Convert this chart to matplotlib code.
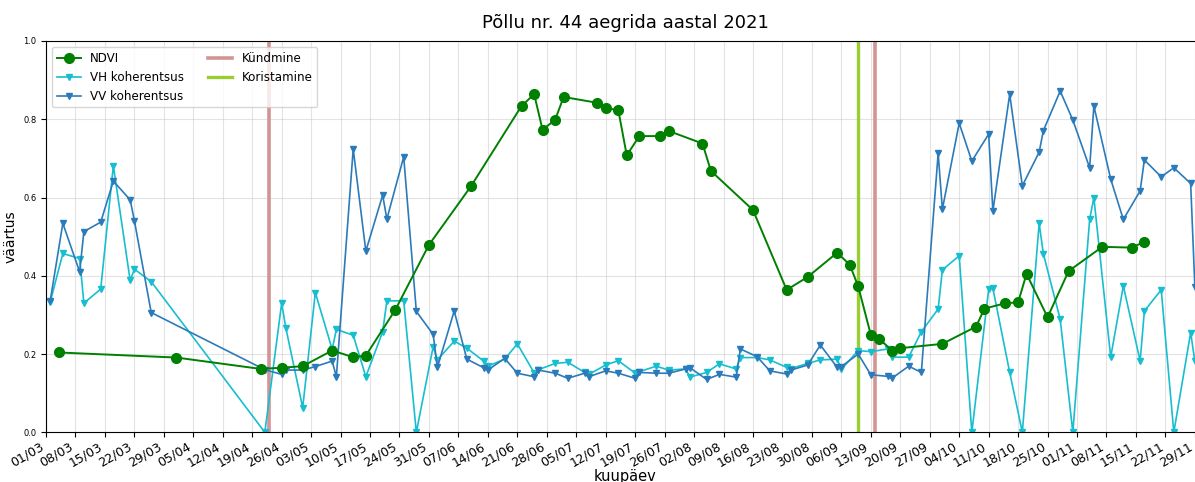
import matplotlib
matplotlib.use("Agg")
import matplotlib.pyplot as plt
import matplotlib.dates as mdates
import pandas as pd

# ---------------- data ----------------
ndvi_dates = ["2021-03-04", "2021-04-01", "2021-04-21", "2021-04-26", "2021-05-01", "2021-05-08",
              "2021-05-13", "2021-05-16", "2021-05-23", "2021-05-31", "2021-06-10", "2021-06-22",
              "2021-06-25", "2021-06-27", "2021-06-30", "2021-07-02", "2021-07-10", "2021-07-12",
              "2021-07-15", "2021-07-17", "2021-07-20", "2021-07-25", "2021-07-27", "2021-08-04",
              "2021-08-06", "2021-08-16", "2021-08-24", "2021-08-29", "2021-09-05", "2021-09-08",
              "2021-09-10", "2021-09-13", "2021-09-15", "2021-09-18", "2021-09-20", "2021-09-30",
              "2021-10-08", "2021-10-10", "2021-10-15", "2021-10-18", "2021-10-20", "2021-10-25",
              "2021-10-30", "2021-11-07", "2021-11-14", "2021-11-17"]
ndvi_values = [0.204, 0.191, 0.162, 0.165, 0.169, 0.209,
               0.192, 0.196, 0.313, 0.479, 0.629, 0.834,
               0.864, 0.773, 0.799, 0.857, 0.842, 0.829,
               0.823, 0.708, 0.757, 0.757, 0.770, 0.738,
               0.668, 0.568, 0.364, 0.397, 0.459, 0.428,
               0.373, 0.249, 0.239, 0.209, 0.215, 0.226,
               0.270, 0.316, 0.330, 0.332, 0.405, 0.294,
               0.412, 0.474, 0.472, 0.487]

coh_dates = ["2021-03-02", "2021-03-05", "2021-03-09", "2021-03-10", "2021-03-14", "2021-03-17",
             "2021-03-21", "2021-03-22", "2021-03-26", "2021-04-22", "2021-04-26", "2021-04-27",
             "2021-05-01", "2021-05-04", "2021-05-08", "2021-05-09", "2021-05-13", "2021-05-16",
             "2021-05-20", "2021-05-21", "2021-05-25", "2021-05-28", "2021-06-01", "2021-06-02",
             "2021-06-06", "2021-06-09", "2021-06-13", "2021-06-14", "2021-06-18", "2021-06-21",
             "2021-06-25", "2021-06-26", "2021-06-30", "2021-07-03", "2021-07-07", "2021-07-08",
             "2021-07-12", "2021-07-15", "2021-07-19", "2021-07-20", "2021-07-24", "2021-07-27",
             "2021-07-31", "2021-08-01", "2021-08-05", "2021-08-08", "2021-08-12", "2021-08-13",
             "2021-08-17", "2021-08-20", "2021-08-24", "2021-08-25", "2021-08-29", "2021-09-01",
             "2021-09-05", "2021-09-06", "2021-09-10", "2021-09-13", "2021-09-17", "2021-09-18",
             "2021-09-22", "2021-09-25", "2021-09-29", "2021-09-30", "2021-10-04", "2021-10-07",
             "2021-10-11", "2021-10-12", "2021-10-16", "2021-10-19", "2021-10-23", "2021-10-24",
             "2021-10-28", "2021-10-31", "2021-11-04", "2021-11-05", "2021-11-09", "2021-11-12",
             "2021-11-16", "2021-11-17", "2021-11-21", "2021-11-24", "2021-11-28", "2021-11-29"]
vh_values = [0.333, 0.457, 0.444, 0.330, 0.366, 0.681,
             0.388, 0.417, 0.385, 0.0, 0.330, 0.266,
             0.063, 0.357, 0.212, 0.263, 0.248, 0.142,
             0.257, 0.336, 0.336, 0.0, 0.219, 0.185,
             0.233, 0.215, 0.182, 0.169, 0.187, 0.226,
             0.152, 0.160, 0.176, 0.179, 0.153, 0.148,
             0.172, 0.183, 0.151, 0.155, 0.169, 0.159,
             0.162, 0.141, 0.153, 0.175, 0.162, 0.191,
             0.191, 0.185, 0.166, 0.163, 0.176, 0.185,
             0.187, 0.161, 0.209, 0.206, 0.213, 0.192,
             0.192, 0.257, 0.315, 0.415, 0.451, 0.0,
             0.365, 0.368, 0.153, 0.0, 0.534, 0.456,
             0.289, 0.0, 0.544, 0.600, 0.192, 0.374,
             0.182, 0.310, 0.364, 0.0, 0.255, 0.181]
vv_values = [0.336, 0.534, 0.410, 0.513, 0.537, 0.642,
             0.594, 0.541, 0.306, 0.160, 0.148, 0.159,
             0.159, 0.168, 0.182, 0.142, 0.724, 0.463,
             0.606, 0.545, 0.704, 0.309, 0.250, 0.166,
             0.310, 0.187, 0.165, 0.159, 0.189, 0.151,
             0.142, 0.159, 0.151, 0.138, 0.151, 0.142,
             0.157, 0.151, 0.138, 0.153, 0.151, 0.151,
             0.162, 0.165, 0.135, 0.148, 0.141, 0.213,
             0.193, 0.157, 0.149, 0.159, 0.172, 0.223,
             0.166, 0.168, 0.200, 0.147, 0.143, 0.138,
             0.169, 0.153, 0.713, 0.570, 0.790, 0.693,
             0.762, 0.565, 0.864, 0.630, 0.716, 0.771,
             0.872, 0.798, 0.676, 0.834, 0.647, 0.544,
             0.617, 0.696, 0.653, 0.676, 0.636, 0.372]

kyndmine_dates = ["2021-04-23", "2021-09-14"]
koristamine_dates = ["2021-09-10"]

title = "Põllu nr. 44 aegrida aastal 2021"
xlabel = "kuupäev"
ylabel = "väärtus"

# ---------------- plot ----------------
W, H = 1195, 482
fig = plt.figure(figsize=(W / 100, H / 100), dpi=100)
x0 = pd.Timestamp("2021-03-01")
x1 = x0 + pd.Timedelta(days=275.2)
px_per_day = 4.2083
ax_w = 275.2 * px_per_day
ax = fig.add_axes([46 / W, 49.7 / H, ax_w / W, 391.3 / H])

kund_handle = None
for i, d in enumerate(kyndmine_dates):
    h = ax.axvline(pd.Timestamp(d), color="#d29494", lw=2.6, zorder=1.5)
    if i == 0:
        kund_handle = h
kor_handle = None
for d in koristamine_dates:
    kor_handle = ax.axvline(pd.Timestamp(d), color="#9acd32", lw=2.4, zorder=1.5)

vh_line, = ax.plot(pd.to_datetime(coh_dates), vh_values, color="#17becf", marker="v",
                   markersize=4, lw=1.2, zorder=2)
vv_line, = ax.plot(pd.to_datetime(coh_dates), vv_values, color="#2b7bba", marker="v",
                   markersize=4, lw=1.2, zorder=2.1)
ndvi_line, = ax.plot(pd.to_datetime(ndvi_dates), ndvi_values, color="green", marker="o",
                     markersize=7, lw=1.4, zorder=3)

ax.set_xlim(x0, x1)
ax.set_ylim(0, 1.0)
ax.xaxis.set_major_locator(mdates.WeekdayLocator(byweekday=mdates.MO, interval=1))
ax.xaxis.set_major_formatter(mdates.DateFormatter("%d/%m"))
for lab in ax.get_xticklabels():
    lab.set_rotation(30)
    lab.set_ha("right")
ax.tick_params(axis="x", labelsize=9, pad=2)
ax.tick_params(axis="y", labelsize=6)
ax.set_yticks([0.0, 0.2, 0.4, 0.6, 0.8, 1.0])
ax.grid(True, color="#c8c8c8", alpha=0.5, lw=0.8)
ax.set_axisbelow(True)

ax.set_title(title, fontsize=13, pad=9)
ax.set_xlabel(xlabel, fontsize=10.5, labelpad=0)
ax.set_ylabel(ylabel, fontsize=10)

ax.legend(handles=[ndvi_line, vh_line, vv_line, kund_handle, kor_handle],
          labels=["NDVI", "VH koherentsus", "VV koherentsus", "Kündmine", "Koristamine"],
          loc="upper left", ncol=2, fontsize=8.6, framealpha=0.8)

fig.savefig("out.png", dpi=100)
